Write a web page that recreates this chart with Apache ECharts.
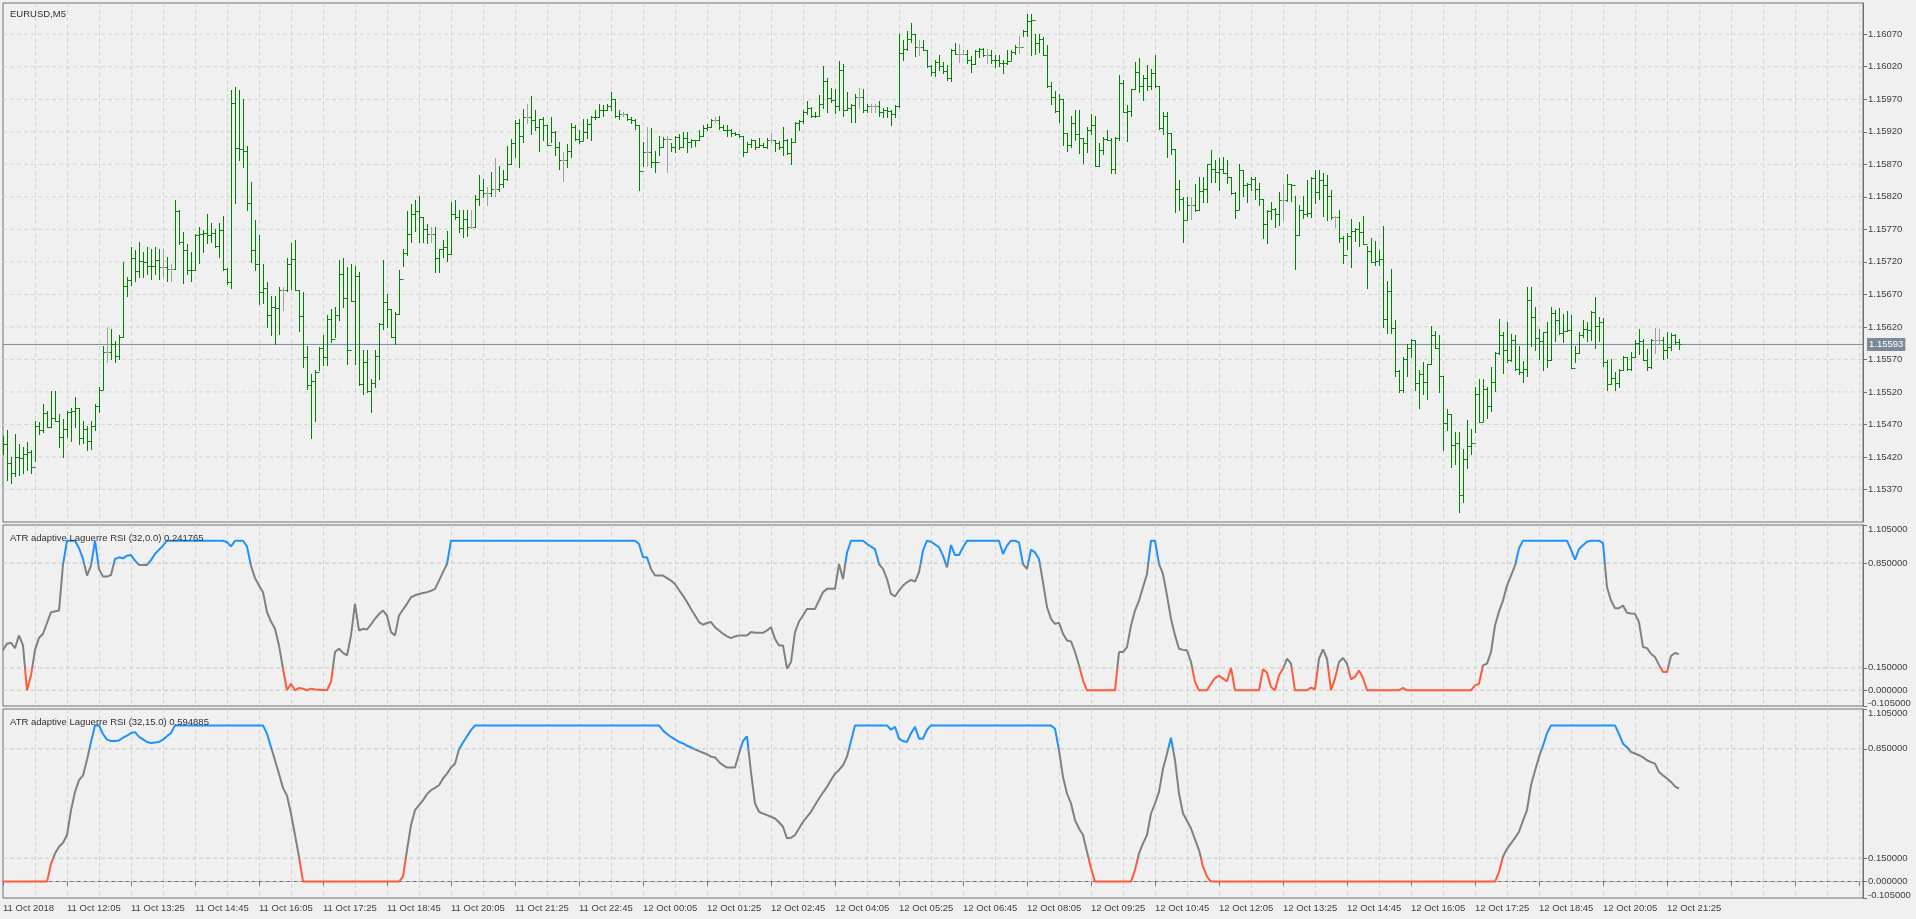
<!DOCTYPE html>
<html><head><meta charset="utf-8">
<script src="https://cdn.jsdelivr.net/npm/echarts@6/dist/echarts.min.js"></script>
<style>html,body{margin:0;padding:0;background:#f0f0f0;}#c{width:1916px;height:919px;}</style>
</head><body><div id="c"></div>
<script>
// prices in points above 1.15000 (1 point = 0.00001)
const BASE = 1.15, PT = 0.00001;
const highs = [452,462,420,455,440,435,443,430,475,473,502,491,522,522,486,479,491,496,512,496,476,468,476,502,527,591,620,617,599,607,720,697,743,738,750,735,743,740,743,740,740,727,717,815,799,766,748,735,763,773,769,793,779,771,779,791,711,984,989,984,971,898,843,784,761,716,689,667,667,681,681,726,749,754,677,673,591,548,553,589,607,638,648,650,723,726,712,717,714,704,584,584,540,584,626,723,671,648,643,707,740,798,809,815,822,789,778,773,773,740,754,768,812,815,799,800,800,800,823,854,848,835,858,879,867,861,898,909,938,939,955,963,975,953,940,942,931,942,921,904,889,901,933,931,922,939,939,945,953,962,961,962,981,971,953,950,948,943,940,930,904,927,926,891,914,912,913,903,913,917,920,920,909,908,923,930,932,940,942,944,930,930,925,920,916,914,904,909,908,911,902,911,918,907,906,927,909,911,935,938,953,967,958,950,976,1021,1002,988,986,1029,1024,981,963,978,988,986,963,963,962,968,956,958,953,961,1071,1061,1075,1087,1071,1061,1061,1046,1022,1031,1038,1027,1022,1048,1056,1055,1046,1046,1036,1045,1049,1049,1048,1045,1038,1038,1031,1045,1046,1053,1067,1076,1101,1101,1071,1071,1065,1053,997,983,978,971,918,944,954,954,911,928,947,944,903,912,922,911,912,1008,1000,961,986,1027,1034,1007,1022,1017,1038,991,950,950,918,894,846,820,820,820,839,851,850,871,892,877,879,881,876,851,827,870,861,841,851,851,841,817,799,812,803,827,840,855,840,821,808,821,846,851,861,861,857,853,831,790,799,759,764,786,772,781,790,745,756,752,738,775,690,709,630,553,573,593,602,600,554,566,563,621,614,607,545,494,486,458,458,432,477,463,527,540,540,527,559,581,632,612,627,609,607,590,568,681,682,651,617,612,627,651,646,649,640,645,638,590,612,631,627,645,666,635,634,569,571,550,555,576,573,581,600,616,602,586,602,619,617,604,612,610,609,601];
const lows = [425,385,380,390,392,395,400,395,414,455,458,466,466,476,435,420,450,445,466,440,441,430,432,461,489,525,566,571,566,571,604,668,684,691,697,697,702,694,702,694,697,691,691,709,748,687,702,691,707,718,735,749,750,743,727,707,686,680,810,877,866,799,720,707,655,657,620,607,594,609,646,675,679,676,614,558,525,449,476,553,561,561,596,604,630,650,563,660,563,530,517,520,489,527,540,617,620,604,594,640,714,730,750,768,750,750,749,750,705,705,728,721,732,786,766,758,759,772,773,807,820,807,822,821,829,835,846,871,881,866,904,933,917,922,891,907,899,904,885,863,845,866,881,907,903,907,911,907,939,943,944,954,953,943,940,944,938,934,925,830,867,868,866,858,884,897,858,891,889,894,897,889,897,898,907,913,923,927,935,925,922,913,913,915,912,882,889,897,894,897,897,895,904,891,894,884,886,870,904,922,933,948,943,943,944,957,950,966,949,953,945,953,935,935,956,950,950,950,950,945,943,942,930,943,958,1030,1045,1058,1036,1038,1045,1020,1007,1005,1015,1010,1000,998,1039,1027,1039,1026,1012,1024,1035,1036,1025,1025,1020,1021,1010,1024,1030,1040,1041,1068,1067,1038,1039,1043,1038,989,963,950,935,899,891,897,907,887,872,889,917,867,867,886,907,857,857,907,950,906,945,986,981,969,984,986,989,925,917,881,886,797,800,750,786,786,798,799,812,812,843,843,831,856,841,825,788,802,821,812,831,816,808,757,749,786,773,776,785,813,813,709,761,788,790,789,810,817,791,785,786,774,750,718,740,712,752,745,747,680,720,715,715,620,610,610,545,520,520,545,574,523,496,517,509,563,588,520,430,461,405,409,336,350,403,425,459,473,476,480,491,521,579,549,566,567,554,547,536,545,590,585,571,554,558,569,598,609,597,614,557,566,580,605,599,600,588,598,560,523,532,523,527,553,553,554,574,579,569,554,557,580,594,571,572,585,594,586];
const closes = [440,410,395,420,418,425,428,405,468,462,488,466,480,476,451,463,489,491,496,449,463,444,467,499,523,581,581,594,576,605,683,692,726,706,722,720,714,713,723,712,712,709,709,798,750,738,708,707,761,763,764,761,765,744,769,709,689,964,895,894,891,810,738,717,673,680,638,650,649,677,677,717,725,676,636,573,530,537,550,588,574,632,602,639,701,665,584,660,699,532,566,522,533,576,624,658,648,604,640,694,733,763,794,798,789,771,763,763,726,740,743,732,793,789,772,786,773,773,817,831,826,826,832,832,840,848,871,903,934,914,943,943,938,928,940,931,899,920,897,877,877,891,928,909,906,920,932,942,943,954,953,959,971,945,947,947,940,938,930,860,889,889,873,874,897,909,909,897,912,897,911,904,908,907,914,926,928,938,938,928,923,922,918,916,914,889,901,907,896,899,897,907,907,902,896,907,887,904,933,936,950,956,944,945,963,998,972,969,959,1015,954,956,961,973,973,954,959,959,959,950,953,952,948,959,1041,1048,1063,1071,1050,1050,1046,1021,1012,1027,1021,1014,1002,1046,1040,1040,1040,1031,1024,1044,1048,1038,1038,1030,1031,1025,1026,1029,1043,1050,1050,1075,1091,1092,1057,1062,1038,991,974,952,971,918,899,933,917,911,903,922,930,867,892,909,908,863,911,995,950,952,986,1012,991,1002,991,1010,991,926,945,918,894,832,817,785,807,807,800,829,832,870,862,858,862,857,851,826,800,861,838,839,848,832,817,778,798,802,794,815,815,840,838,761,800,793,795,849,827,846,838,821,789,789,757,730,759,767,771,766,747,737,720,721,725,632,675,619,552,523,571,588,600,533,548,535,563,607,588,544,472,486,439,441,361,417,437,441,517,473,525,499,535,580,608,585,569,600,555,550,555,661,635,603,598,612,569,641,630,610,614,615,557,580,607,617,615,643,622,627,566,532,542,533,554,574,555,574,595,599,569,559,600,600,600,584,589,607,597,593];
// indicator readings: [bar index, value]
const rsi1 = [[0,.267],[1,.311],[2,.318],[3,.282],[4,.367],[5,.30],[6,0],[7,.10],[8,.27],[9,.35],[10,.378],[11,.45],[12,.522],[14,.533],[15,.84],[16,1],[18,1],[19,.95],[20,.878],[21,.767],[22,.833],[23,1],[24,.81],[25,.76],[26,.76],[27,.771],[28,.878],[29,.889],[30,.882],[31,.9],[32,.904],[33,.867],[34,.838],[36,.838],[37,.87],[38,.911],[39,.94],[40,.967],[41,1],[55,1],[56,.99],[57,.962],[58,1],[60,1],[61,.962],[62,.833],[63,.75],[64,.7],[65,.656],[66,.522],[67,.46],[68,.411],[69,.30],[70,.144],[71,0],[72,.044],[73,0],[74,.016],[75,.01],[76,0],[77,.011],[78,.005],[81,0],[82,.056],[83,.256],[84,.278],[85,.25],[86,.233],[87,.367],[88,.578],[89,.40],[90,.411],[91,.407],[92,.44],[93,.478],[94,.51],[95,.533],[96,.50],[97,.389],[98,.367],[99,.50],[100,.54],[101,.578],[102,.622],[103,.635],[104,.644],[105,.65],[106,.656],[107,.665],[108,.678],[109,.733],[110,.79],[111,.844],[112,1],[158,1],[159,.978],[160,.889],[161,.889],[162,.811],[163,.767],[165,.767],[166,.75],[167,.733],[168,.711],[169,.67],[170,.633],[171,.59],[172,.544],[173,.50],[174,.456],[175,.438],[176,.45],[177,.456],[178,.422],[179,.40],[180,.378],[181,.36],[182,.349],[183,.36],[184,.367],[186,.367],[187,.389],[188,.385],[190,.384],[191,.40],[192,.422],[193,.344],[194,.30],[195,.30],[196,.144],[197,.189],[198,.389],[199,.46],[200,.50],[201,.544],[203,.544],[204,.60],[205,.656],[206,.678],[208,.678],[209,.844],[210,.744],[211,.92],[212,1],[215,1],[216,.978],[217,.96],[218,.944],[219,.844],[220,.811],[221,.744],[222,.644],[223,.627],[224,.667],[225,.70],[226,.722],[227,.738],[228,.727],[229,.789],[230,.933],[231,1],[232,.993],[233,.975],[234,.956],[235,.90],[236,.822],[237,.971],[238,.904],[239,.904],[240,.956],[241,1],[249,1],[250,.911],[251,.967],[252,1],[253,1],[254,.989],[255,.844],[256,.811],[257,.94],[258,.922],[259,.878],[260,.722],[261,.556],[262,.478],[263,.444],[264,.451],[265,.378],[266,.333],[267,.327],[268,.256],[269,.167],[270,.067],[271,0],[278,0],[279,.256],[280,.256],[281,.289],[282,.433],[283,.533],[284,.60],[285,.689],[286,.778],[287,1],[288,1],[289,.844],[290,.778],[291,.633],[292,.478],[293,.367],[294,.278],[295,.27],[296,.267],[297,.189],[298,.056],[299,0],[301,0],[302,.044],[303,.082],[304,.096],[305,.078],[306,.06],[307,.149],[308,0],[314,0],[315,.14],[316,.118],[317,.022],[318,0],[319,.10],[320,.144],[321,.211],[322,.178],[323,0],[326,0],[327,.018],[328,.007],[329,.211],[330,.273],[331,.211],[332,0],[333,.078],[334,.189],[335,.216],[336,.178],[337,.073],[338,.089],[339,.133],[340,.082],[341,0],[349,0],[350,.016],[351,0],[367,0],[368,.033],[369,.044],[370,.167],[371,.178],[372,.256],[373,.433],[374,.527],[375,.60],[376,.70],[377,.767],[378,.833],[379,.949],[380,1],[391,1],[392,.94],[393,.873],[394,.944],[395,.97],[396,.993],[397,1],[399,1],[400,.984],[401,.689],[402,.60],[403,.549],[404,.549],[405,.567],[406,.518],[407,.514],[408,.511],[409,.456],[410,.289],[411,.282],[412,.244],[413,.222],[414,.17],[415,.122],[416,.122],[417,.229],[418,.249],[419,.241765]];
const rsi2 = [[0,0],[11,0],[12,.113],[13,.18],[14,.223],[15,.249],[16,.298],[17,.457],[18,.574],[19,.649],[20,.68],[21,.78],[22,.894],[23,1],[24,1],[25,.945],[26,.909],[27,.90],[28,.90],[29,.904],[30,.921],[31,.935],[32,.951],[33,.957],[34,.926],[35,.91],[36,.894],[37,.887],[38,.89],[39,.894],[40,.909],[41,.93],[42,.951],[43,1],[65,1],[66,.947],[67,.862],[68,.777],[69,.691],[70,.60],[71,.55],[72,.436],[73,.298],[74,.16],[75,0],[99,0],[100,.032],[101,.202],[102,.362],[103,.457],[104,.489],[105,.52],[106,.56],[107,.585],[108,.60],[109,.617],[110,.66],[111,.691],[112,.73],[113,.755],[114,.847],[115,.89],[116,.93],[117,.97],[118,1],[164,1],[165,.968],[166,.945],[167,.926],[168,.91],[169,.894],[170,.885],[171,.87],[172,.86],[173,.847],[174,.835],[175,.825],[176,.815],[177,.80],[178,.795],[179,.766],[180,.745],[181,.73],[182,.73],[183,.73],[184,.819],[185,.90],[186,.93],[187,.70],[188,.50],[189,.447],[190,.435],[191,.426],[192,.415],[193,.404],[194,.38],[195,.351],[196,.277],[197,.28],[198,.298],[199,.34],[200,.383],[201,.415],[202,.447],[203,.49],[204,.532],[205,.57],[206,.606],[207,.65],[208,.691],[209,.715],[210,.745],[211,.80],[212,.90],[213,1],[221,1],[222,.972],[223,.991],[224,.915],[225,.90],[226,.894],[227,.95],[228,.991],[229,.915],[230,.915],[231,.972],[232,1],[262,1],[263,.979],[264,.84],[265,.67],[266,.564],[267,.50],[268,.394],[269,.34],[270,.298],[271,.191],[272,.085],[273,0],[282,0],[283,.074],[284,.181],[285,.245],[286,.298],[287,.436],[288,.50],[289,.574],[290,.723],[291,.819],[292,.921],[293,.777],[294,.564],[295,.436],[296,.39],[297,.34],[298,.27],[299,.202],[300,.096],[301,.032],[302,0],[373,0],[374,.06],[375,.16],[376,.21],[377,.245],[378,.28],[379,.319],[380,.39],[381,.457],[382,.617],[383,.71],[384,.798],[385,.87],[386,.95],[387,1],[403,1],[404,.945],[405,.883],[406,.86],[407,.83],[408,.82],[409,.809],[410,.795],[411,.777],[412,.765],[413,.755],[414,.702],[415,.68],[416,.66],[417,.638],[418,.61],[419,.594885]];
const priceTicks = [1.15370,1.15420,1.15470,1.15520,1.15570,1.15620,1.15670,1.15720,1.15770,1.15820,1.15870,1.15920,1.15970,1.16020,1.16070];
const rsiTicks = [-0.105,0,0.15,0.85,1.105];
const rsiGrid = [0,0.15,0.85];
const timeLabels = ['11 Oct 2018','11 Oct 12:05','11 Oct 13:25','11 Oct 14:45','11 Oct 16:05','11 Oct 17:25','11 Oct 18:45','11 Oct 20:05','11 Oct 21:25','11 Oct 22:45','12 Oct 00:05','12 Oct 01:25','12 Oct 02:45','12 Oct 04:05','12 Oct 05:25','12 Oct 06:45','12 Oct 08:05','12 Oct 09:25','12 Oct 10:45','12 Oct 12:05','12 Oct 13:25','12 Oct 14:45','12 Oct 16:05','12 Oct 17:25','12 Oct 18:45','12 Oct 20:05','12 Oct 21:25'];
const lastPrice = 1.15593;
const SLOTS = 466;

const cats = []; for (let i = 0; i < SLOTS; i++) cats.push(i);
const ohlc = highs.map((h, i) => [i, BASE + (i ? closes[i-1] : 445) * PT, BASE + h * PT, BASE + lows[i] * PT, BASE + closes[i] * PT]);

const FONT = 'Liberation Sans';
const GL = {color:'#d4d4d4', type:[4,3], width:1};
function xAx(gi, labels) {
  return {type:'category', gridIndex:gi, data:cats, boundaryGap:false,
    axisLine:{show:labels, lineStyle:{color:'#707070'}},
    axisTick:{show:labels, interval:(i)=>i%16===0, length:4, lineStyle:{color:'#707070'}},
    axisLabel:{show:labels, interval:(i)=>i%16===0, align:'left', margin:5, color:'#404040', fontSize:9.5, fontFamily:FONT,
      formatter:(v,i)=> timeLabels[i/16] || ''},
    splitLine:{show:true, interval:(i)=> i>0 && i%8===0, lineStyle:GL}};
}
function yAx(gi, min, max, ticks, dec, shift) {
  return {type:'value', gridIndex:gi, position:'right', min:min, max:max, scale:true,
    axisLine:{show:true, lineStyle:{color:'#707070'}},
    axisTick:{show:true, customValues:ticks, length:4, lineStyle:{color:'#707070'}},
    axisLabel:{show:true, customValues:ticks, color:'#404040', fontSize:9.5, fontFamily:FONT, margin:5,
      formatter:(v)=> !shift ? v.toFixed(dec) : Math.abs(v-max)<1e-9 ? '{t|'+v.toFixed(dec)+'}' : Math.abs(v-min)<1e-9 ? '{b|'+v.toFixed(dec)+'}' : v.toFixed(dec),
      rich:{t:{padding:[9,0,0,0], color:'#404040', fontSize:9.5, fontFamily:FONT},
            b:{padding:[0,0,5,0], color:'#404040', fontSize:9.5, fontFamily:FONT}}},
    splitLine:{show:false}};
}
// horizontal level lines drawn as two-point line series across the whole axis
function hLine(xi, v, style, z, endLabel) {
  return {type:'line', xAxisIndex:xi, yAxisIndex:xi, data:[[0, v],[SLOTS-1, v]], silent:true, z:z,
    showSymbol:false, symbol:'none', lineStyle:style, endLabel:endLabel || {show:false}};
}
const pieces = [{gt:0.85, color:'#1e90ff'},{gte:0.15, lte:0.85, color:'#808080'},{lt:0.15, color:'#ff5a3c'}];
const grids = [
  {left:3, top:3, width:1860, height:519},
  {left:3, top:525, width:1860, height:181},
  {left:3, top:709, width:1860, height:189}
].map(g=>Object.assign(g,{show:true, borderColor:'#707070', borderWidth:1, backgroundColor:'transparent'}));

const series = [
  {type:'custom', xAxisIndex:0, yAxisIndex:0, data:ohlc, encode:{x:0, y:[1,2,3,4]}, clip:true, z:3,
    renderItem:(params, api)=>{
      const i = api.value(0);
      const po = api.coord([i, api.value(1)]), ph = api.coord([i, api.value(2)]);
      const pl = api.coord([i, api.value(3)]), pc = api.coord([i, api.value(4)]);
      const x = Math.round(ph[0]) + 0.5;
      const col = api.value(1) === api.value(4) ? '#a0a0a0' : '#008000';
      const st = {stroke:col, lineWidth:1};
      return {type:'group', children:[
        {type:'line', shape:{x1:x, y1:Math.round(ph[1]), x2:x, y2:Math.round(pl[1])+1}, style:st},
        {type:'line', shape:{x1:x-2, y1:Math.round(po[1])+0.5, x2:x, y2:Math.round(po[1])+0.5}, style:st},
        {type:'line', shape:{x1:x, y1:Math.round(pc[1])+0.5, x2:x+2, y2:Math.round(pc[1])+0.5}, style:st}
      ]};
    }
  },
  {type:'line', xAxisIndex:1, yAxisIndex:1, data:rsi1, showSymbol:false, lineStyle:{width:2}, z:3},
  {type:'line', xAxisIndex:2, yAxisIndex:2, data:rsi2, showSymbol:false, lineStyle:{width:2}, z:3}
];
priceTicks.forEach(v=>series.push(hLine(0, v, GL, 1)));
rsiGrid.forEach(v=>{ series.push(hLine(1, v, {color:'#c8c8c8', type:[4,3], width:1}, 1)); series.push(hLine(2, v, {color:'#c8c8c8', type:[4,3], width:1}, 1)); });
series.push(hLine(0, lastPrice, {color:'#7a8ca0', type:'solid', width:1}, 2,
  {show:true, formatter:()=>lastPrice.toFixed(5), color:'#ffffff', backgroundColor:'#7a8a98',
   padding:[2,2,1,2], fontSize:9.5, fontFamily:FONT, distance:4}));

const chart = echarts.init(document.getElementById('c'), null, {renderer:'canvas'});
chart.setOption({
  animation:false, backgroundColor:'#f0f0f0',
  textStyle:{fontFamily:FONT},
  title:[
    {text:'EURUSD,M5', left:5, top:4, textStyle:{fontSize:9.5, fontWeight:'normal', color:'#303030', fontFamily:FONT}},
    {text:'ATR adaptive Laguerre RSI (32,0.0) 0.241765', left:5, top:528, textStyle:{fontSize:9.5, fontWeight:'normal', color:'#303030', fontFamily:FONT}},
    {text:'ATR adaptive Laguerre RSI (32,15.0) 0.594885', left:5, top:712, textStyle:{fontSize:9.5, fontWeight:'normal', color:'#303030', fontFamily:FONT}}
  ],
  grid:grids,
  xAxis:[xAx(0,false), xAx(1,false), xAx(2,true)],
  yAxis:[yAx(0,1.15320,1.16118,priceTicks,5,false), yAx(1,-0.105,1.105,rsiTicks,6,true), yAx(2,-0.105,1.105,rsiTicks,6,true)],
  visualMap:[
    {show:false, type:'piecewise', seriesIndex:1, dimension:1, pieces:pieces},
    {show:false, type:'piecewise', seriesIndex:2, dimension:1, pieces:pieces}
  ],
  series:series
});
</script></body></html>
